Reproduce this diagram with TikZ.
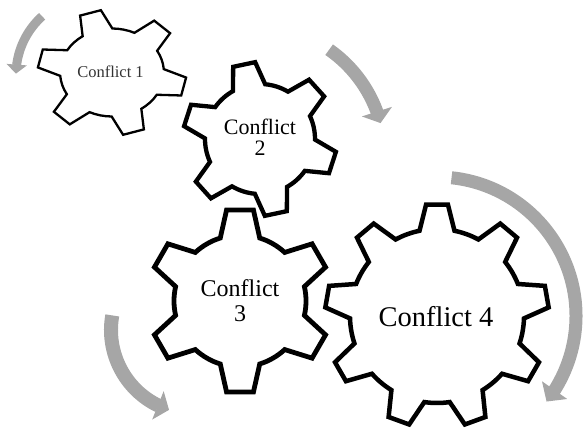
\documentclass[tikz,border=0pt]{standalone}
\usepackage{fontspec}
\setmainfont{Liberation Serif}
\usetikzlibrary{arrows.meta,bending}

\definecolor{arrowgray}{HTML}{A6A6A6}

\tikzset{
  gear/.style={draw=black, fill=white, line width=4.5pt, line join=miter},
  turn/.style={draw=arrowgray, line width=#1},
  gearlabel/.style={inner sep=0pt, align=center, text=black},
}

% teeth, inner radius, outer radius, rotation
\newcommand{\gearshape}[5][]{%
  \pgfmathsetmacro{\gearstep}{360/#2}%
  \pgfmathsetmacro{\geartip}{0.14*\gearstep}%
  \pgfmathsetmacro{\gearbase}{0.29*\gearstep}%
  \pgfmathtruncatemacro{\gearlast}{#2-1}%
  \draw[gear,#1] ({#5-\gearbase}:#3)
    \foreach \k in {0,...,\gearlast}{
      -- ({#5+\k*\gearstep-\geartip}:#4) -- ({#5+\k*\gearstep+\geartip}:#4)
      -- ({#5+\k*\gearstep+\gearbase}:#3)
      arc[start angle={#5+\k*\gearstep+\gearbase}, end angle={#5+(\k+1)*\gearstep-\gearbase}, radius=#3]
    } -- cycle;
}

\begin{document}
\begin{tikzpicture}[x=1pt, y=1pt]
    \path[use as bounding box] (0,0) rectangle (587,431);

    \coordinate (g1) at (112,358.5);
    \coordinate (g2) at (260,292);
    \coordinate (g3) at (240,130);
    \coordinate (g4) at (437,115);

    % gears
    \gearshape[shift={(g1)}, xscale=1.18, line width=2.3pt]{6}{44}{63}{47}
    \gearshape[shift={(g2)}, line width=4.3pt]{6}{55}{77}{42}
    \gearshape[shift={(g3)}, line width=4.8pt]{6}{66}{92}{30}
    \gearshape[shift={(g4)}, line width=4.5pt]{9}{87}{112}{10}

    \node[gearlabel, text=black!80, font=\fontsize{16.5}{17}\selectfont] (c1) at (110.5,359.5) {Conflict 1};
    \node[gearlabel, font=\fontsize{22}{21}\selectfont] (c2) at (260,294) {Conflict\\2};
    \node[gearlabel, font=\fontsize{24}{25}\selectfont] (c3) at (240,130) {Conflict\\3};
    \node[gearlabel, font=\fontsize{28.5}{30}\selectfont] (c4) at (436,114.5) {Conflict 4};

    % turning arrows
    \coordinate (a1) at (95,356);
    \coordinate (a2) at (254,274);
    \coordinate (a4) at (195,101);
    \draw[turn=9pt, -{Triangle[width=20pt,length=9pt]}]
        ([shift={(132:79)}]a1) arc[start angle=132, end angle=179, radius=79];
    \draw[turn=13pt, -{Triangle[width=31pt,length=12pt]}]
        ([shift={(55:131)}]a2) arc[start angle=55, end angle=15, radius=131];
    \draw[turn=13pt, -{Triangle[width=30pt,length=14pt]}]
        ([shift={(84:139)}]g4) arc[start angle=84, end angle=-38, radius=139];
    \draw[turn=14pt, -{Triangle[width=30pt,length=12pt]}]
        ([shift={(170:84)}]a4) arc[start angle=170, end angle=252, radius=84];
\end{tikzpicture}
\end{document}
